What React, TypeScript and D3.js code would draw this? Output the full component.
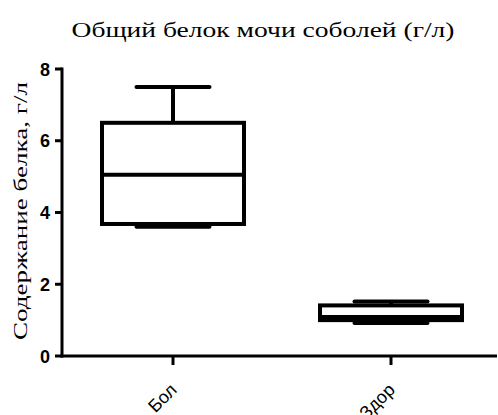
import React from "react";
import * as d3 from "d3";

const categories = ["Бол", "Здор"];
const whiskerMin = [3.6, 0.92];
const q1 = [3.68, 1.0];
const median = [5.05, 1.09];
const q3 = [6.5, 1.41];
const whiskerMax = [7.5, 1.52];
const yTicks = [0, 2, 4, 6, 8];

const W = 498;
const H = 415;

export default function App() {
  const y = d3.scaleLinear().domain([0, 8]).range([356, 69]);
  const x = d3.scalePoint<string>().domain(categories).range([64, 500]).padding(0.5);
  const boxW = 142;
  const capW = 73;
  const axisX = 62;
  const sw = 4;

  return (
    <svg width={W} height={H} style={{ position: "absolute", left: 0, top: 0, background: "#fff" }}>
      <text
        x={263}
        y={37}
        textAnchor="middle"
        fontFamily="Liberation Serif"
        fontSize={21}
        textLength={383}
        lengthAdjust="spacingAndGlyphs"
        fill="#000"
      >
        Общий белок мочи соболей (г/л)
      </text>
      <text
        transform={`translate(26.5,211) rotate(-90)`}
        textAnchor="middle"
        fontFamily="Liberation Serif"
        fontSize={19}
        textLength={258}
        lengthAdjust="spacingAndGlyphs"
        fill="#000"
      >
        Содержание белка, г/л
      </text>
      {/* y axis */}
      <line x1={axisX} x2={axisX} y1={y(8) - 1.5} y2={y(0) + 1.5} stroke="#000" strokeWidth={3} />
      {yTicks.map((t) => (
        <g key={t}>
          <line x1={axisX - 7} x2={axisX} y1={y(t)} y2={y(t)} stroke="#000" strokeWidth={3} />
          <text
            x={axisX - 12}
            y={y(t) + 6.5}
            textAnchor="end"
            fontFamily="Liberation Sans"
            fontWeight="bold"
            fontSize={18}
            fill="#000"
          >
            {t}
          </text>
        </g>
      ))}
      {/* x axis */}
      <line x1={axisX - 1.5} x2={497} y1={y(0)} y2={y(0)} stroke="#000" strokeWidth={3} />
      {categories.map((c) => (
        <g key={c}>
          <line x1={x(c)} x2={x(c)} y1={y(0)} y2={y(0) + 9} stroke="#000" strokeWidth={3} />
          <text
            transform={`translate(${(x(c) as number) + 5},${y(0) + 35}) rotate(-45)`}
            textAnchor="end"
            fontFamily="Liberation Sans"
            fontSize={18}
            fill="#000"
          >
            {c}
          </text>
        </g>
      ))}
      {/* boxes */}
      {categories.map((c, i) => {
        const cx = x(c) as number;
        return (
          <g key={"b" + c} stroke="#000" strokeWidth={sw} fill="none">
            <line x1={cx} x2={cx} y1={y(q3[i])} y2={y(whiskerMax[i])} />
            <line x1={cx} x2={cx} y1={y(q1[i])} y2={y(whiskerMin[i])} />
            <line x1={cx - capW / 2} x2={cx + capW / 2} y1={y(whiskerMax[i])} y2={y(whiskerMax[i])} strokeLinecap="round" />
            <line x1={cx - capW / 2} x2={cx + capW / 2} y1={y(whiskerMin[i])} y2={y(whiskerMin[i])} strokeLinecap="round" />
            <rect x={cx - boxW / 2} y={y(q3[i])} width={boxW} height={y(q1[i]) - y(q3[i])} fill="#fff" />
            <line x1={cx - boxW / 2} x2={cx + boxW / 2} y1={y(median[i])} y2={y(median[i])} />
          </g>
        );
      })}
    </svg>
  );
}
